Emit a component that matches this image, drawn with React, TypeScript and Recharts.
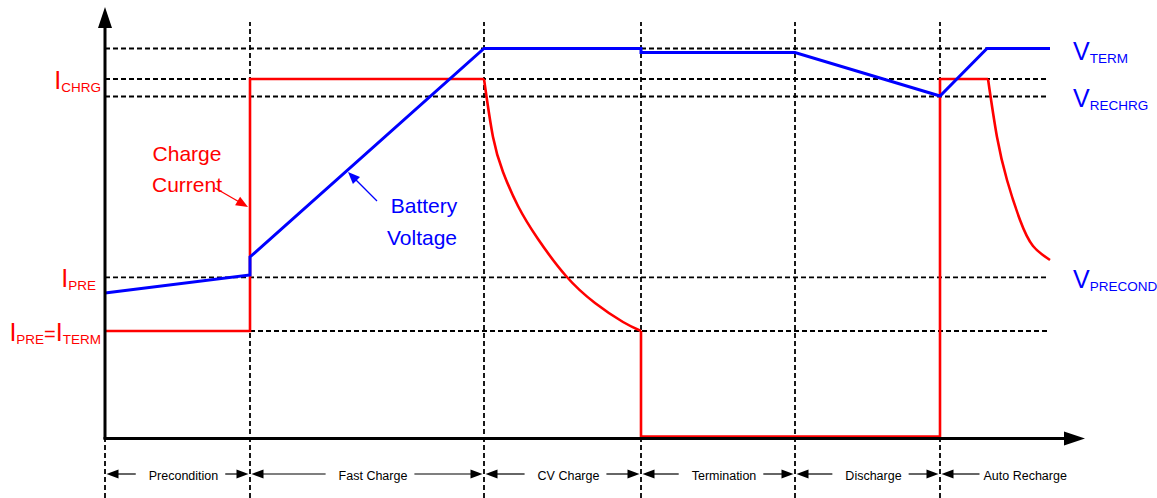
import React from "react"
import { LineChart, Line, XAxis, YAxis, ReferenceLine, ReferenceDot } from "recharts"

const RED = "#ff0000"
const BLUE = "#0000ff"
const FONT = "'Liberation Sans', Arial, sans-serif"

// t = time from the origin, v = level above the time axis
const phaseNames = ["Precondition", "Fast Charge", "CV Charge", "Termination", "Discharge", "Auto Recharge"]
const phaseEdges = [0, 145, 379, 536, 690, 835]
const phaseEnd = 945

// dashed guide levels: VTERM, ICHRG, VRECHRG, IPRE / VPRECOND, ITERM
const guideLevels = [389.5, 359, 341.5, 160.7, 107]
const guideFrom = [0, 0, 0, 0, 145]
const guideTo = 942

// battery voltage
const voltageT = [0, 145, 145, 379, 536, 536, 690, 835, 882, 945]
const voltageV = [145, 163, 181, 389.5, 389.5, 385.5, 385.5, 342, 389.5, 389.5]

// charge current
const stepT = [0, 145, 145, 379]
const stepV = [107, 107, 359, 359]
const cvDecayT = [379, 388, 398, 413, 433, 461, 490, 518, 536]
const cvDecayV = [359, 301, 266, 232, 199, 162, 135, 116, 107]
const offT = [536, 536, 835, 835, 883]
const offV = [107, 1.5, 1.5, 359, 359]
const rechargeT = [883, 892, 902, 915, 928, 945]
const rechargeV = [359, 301, 258, 218, 192, 178]

// level labels: [text, kind] pieces, kind m = main letter, s = subscript, e = equals
const leftLabels = [
  { t: -4, v: 346, parts: [["I", "m"], ["CHRG", "s"]] },
  { t: -9, v: 148, parts: [["I", "m"], ["PRE", "s"]] },
  { t: -4, v: 94, parts: [["I", "m"], ["PRE", "s"], ["=", "e"], ["I", "m"], ["TERM", "s"]] },
]
const rightLabels = [
  { t: 968, v: 375.5, parts: [["V", "m"], ["TERM", "s"]] },
  { t: 968, v: 328, parts: [["V", "m"], ["RECHRG", "s"]] },
  { t: 968, v: 147, parts: [["V", "m"], ["PRECOND", "s"]] },
]

const noteLines = [
  { text: "Charge", t: 82, v: 277, color: RED },
  { text: "Current", t: 82, v: 246.5, color: RED },
  { text: "Battery", t: 319, v: 225, color: BLUE },
  { text: "Voltage", t: 317, v: 193, color: BLUE },
]
const noteArrows = [
  { from: [110, 250], to: [143, 231], color: RED },
  { from: [272, 237], to: [243, 266], color: BLUE },
]

const pts = (ts: number[], vs: number[]) => ts.map((t, i) => ({ t, v: vs[i] }))

let ctx: CanvasRenderingContext2D | null = null
function textWidth(s: string, font: string) {
  if (!ctx) ctx = document.createElement("canvas").getContext("2d")
  if (!ctx) return s.length * 6.5
  ctx.font = font
  return ctx.measureText(s).width
}

function arrow(color: string, width: number, head: number, half: number) {
  return (p: any) => {
    const { x1, y1, x2, y2 } = p
    const len = Math.hypot(x2 - x1, y2 - y1) || 1
    const ux = (x2 - x1) / len
    const uy = (y2 - y1) / len
    const bx = x2 - ux * head
    const by = y2 - uy * head
    return (
      <g>
        <line x1={x1} y1={y1} x2={bx + ux} y2={by + uy} stroke={color} strokeWidth={width} />
        <polygon points={`${x2},${y2} ${bx - uy * half},${by + ux * half} ${bx + uy * half},${by - ux * half}`} fill={color} />
      </g>
    )
  }
}

function head(x: number, y: number, dir: number) {
  // dir -1 points left, +1 points right
  const b = x - dir * 12
  return <polygon points={`${x},${y} ${b},${y - 4.5} ${b},${y + 4.5}`} fill="#000" />
}

function phaseShape(name: string, open: boolean) {
  return (p: any) => {
    const { x1, x2, y1 } = p
    const font = `12.5px ${FONT}`
    const w = textWidth(name, font)
    const a = x1 + 1.5
    const b = x2 - 1.5
    const start = open ? a + 42 : (x1 + x2) / 2 + 6 - w / 2
    const end = start + w
    return (
      <g>
        {head(a, y1, -1)}
        <line x1={a + 10} y1={y1} x2={start - (open ? 4 : 13)} y2={y1} stroke="#000" strokeWidth={1.2} />
        {!open && <line x1={end + 7} y1={y1} x2={b - 10} y2={y1} stroke="#000" strokeWidth={1.2} />}
        {!open && head(b, y1, 1)}
        <text x={start} y={y1 + 6} fontFamily={FONT} fontSize={12.5} fill="#000">
          {name}
        </text>
      </g>
    )
  }
}

function levelLabel(parts: string[][], color: string, anchor: "start" | "end") {
  return (p: any) => {
    let shift = 0
    return (
      <text x={p.cx} y={p.cy} textAnchor={anchor} fontFamily={FONT} fill={color}>
        {parts.map(([s, k], i) => {
          const target = k === "s" ? 0 : -3
          const dy = target - shift
          shift = target
          return (
            <tspan key={i} dy={dy} fontSize={k === "s" ? 13.5 : k === "e" ? 20 : 25}>
              {s}
            </tspan>
          )
        })}
      </text>
    )
  }
}

function noteText(text: string, color: string) {
  return (p: any) => (
    <text x={p.cx} y={p.cy} textAnchor="middle" fontFamily={FONT} fontSize={21} fill={color}>
      {text}
    </text>
  )
}

export default function App() {
  const dash = { stroke: "#000", strokeWidth: 1.8, strokeDasharray: "5 3" }
  return (
    <div style={{ position: "absolute", left: 0, top: 0, background: "#fff" }}>
      <LineChart width={1157} height={498} margin={{ top: 0, right: 0, bottom: 0, left: 0 }}>
        <XAxis dataKey="t" type="number" domain={[-105, 1052]} allowDataOverflow hide />
        <YAxis dataKey="v" type="number" domain={[-60, 438]} allowDataOverflow hide />

        {guideLevels.map((lv, i) => (
          <ReferenceLine key={`g${i}`} segment={[{ x: guideFrom[i], y: lv }, { x: guideTo, y: lv }]} {...dash} />
        ))}
        {phaseEdges.map((e, i) => (
          <ReferenceLine key={`e${i}`} segment={[{ x: e, y: -60 }, { x: e, y: 416 }]} {...dash} />
        ))}

        <Line data={pts(stepT, stepV)} dataKey="v" type="linear" stroke={RED} strokeWidth={2.6} dot={false} activeDot={false} isAnimationActive={false} />
        <Line data={pts(cvDecayT, cvDecayV)} dataKey="v" type="natural" stroke={RED} strokeWidth={2.6} dot={false} activeDot={false} isAnimationActive={false} />
        <Line data={pts(offT, offV)} dataKey="v" type="linear" stroke={RED} strokeWidth={2.6} dot={false} activeDot={false} isAnimationActive={false} />
        <Line data={pts(rechargeT, rechargeV)} dataKey="v" type="natural" stroke={RED} strokeWidth={2.6} dot={false} activeDot={false} isAnimationActive={false} />
        <Line data={pts(voltageT, voltageV)} dataKey="v" type="linear" stroke={BLUE} strokeWidth={3} dot={false} activeDot={false} isAnimationActive={false} />

        <ReferenceLine segment={[{ x: 0, y: -1 }, { x: 0, y: 431 }]} shape={arrow("#000", 3, 21, 7)} />
        <ReferenceLine segment={[{ x: -1.5, y: -0.5 }, { x: 980, y: -0.5 }]} shape={arrow("#000", 3, 21, 7)} />

        {phaseNames.map((n, i) => (
          <ReferenceLine
            key={`p${i}`}
            segment={[{ x: phaseEdges[i], y: -36 }, { x: i + 1 < phaseEdges.length ? phaseEdges[i + 1] : phaseEnd, y: -36 }]}
            shape={phaseShape(n, i + 1 >= phaseEdges.length)}
          />
        ))}

        {noteArrows.map((a, i) => (
          <ReferenceLine
            key={`a${i}`}
            segment={[{ x: a.from[0], y: a.from[1] }, { x: a.to[0], y: a.to[1] }]}
            shape={arrow(a.color, 1.3, 12, 5)}
          />
        ))}
        {noteLines.map((n, i) => (
          <ReferenceDot key={`n${i}`} x={n.t} y={n.v} r={0} shape={noteText(n.text, n.color)} />
        ))}
        {leftLabels.map((l, i) => (
          <ReferenceDot key={`l${i}`} x={l.t} y={l.v} r={0} shape={levelLabel(l.parts, RED, "end")} />
        ))}
        {rightLabels.map((l, i) => (
          <ReferenceDot key={`r${i}`} x={l.t} y={l.v} r={0} shape={levelLabel(l.parts, BLUE, "start")} />
        ))}
      </LineChart>
    </div>
  )
}
